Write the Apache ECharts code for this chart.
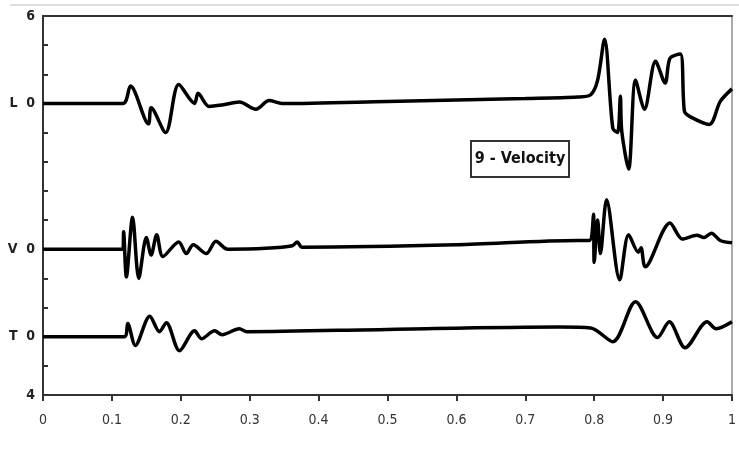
<!DOCTYPE html>
<html>
<head>
<meta charset="utf-8">
<script src="https://cdn.jsdelivr.net/npm/echarts@6/dist/echarts.min.js"></script>
<style>
  html, body { margin: 0; padding: 0; background: #fff; }
  #chart { width: 739px; height: 450px; }
</style>
</head>
<body>
<div id="chart"></div>
<script>
// x ticks
var xTicks = [0, 0.1, 0.2, 0.3, 0.4, 0.5, 0.6, 0.7, 0.8, 0.9, 1]
// y axis labels at tick positions (one unit per tick)
var yTickValues = [13, 10, 5, 2, 0]
var yTickLabels = ['6', 'L  0', 'V  0', 'T  0', '4']

// L trace
var lTime = [0, 0.116, 0.127, 0.153, 0.157, 0.178, 0.197, 0.220, 0.225, 0.241, 0.26, 0.285, 0.309, 0.328, 0.347, 0.5, 0.7, 0.776, 0.795, 0.805, 0.815, 0.827, 0.834, 0.838, 0.840, 0.850, 0.860, 0.873, 0.889, 0.903, 0.910, 0.925, 0.931, 0.939, 0.967, 0.983, 1.0]
var lValue = [0, 0, 0.6, -0.7, -0.15, -1.0, 0.65, 0, 0.35, -0.1, -0.05, 0.05, -0.2, 0.1, 0, 0.07, 0.17, 0.22, 0.3, 0.8, 2.2, -0.85, -1.0, 0.25, -0.95, -2.25, 0.8, -0.2, 1.45, 0.7, 1.55, 1.7, -0.27, -0.45, -0.72, 0.07, 0.5]

// V trace
var vTime = [0, 0.116, 0.117, 0.121, 0.130, 0.139, 0.150, 0.157, 0.165, 0.174, 0.197, 0.208, 0.218, 0.237, 0.251, 0.268, 0.323, 0.362, 0.369, 0.376, 0.6, 0.776, 0.793, 0.799, 0.800, 0.805, 0.809, 0.818, 0.837, 0.850, 0.864, 0.868, 0.874, 0.910, 0.928, 0.949, 0.959, 0.970, 0.983, 1.0]
var vValue = [0, 0, 0.6, -0.95, 1.1, -1.0, 0.4, -0.2, 0.5, -0.25, 0.25, -0.15, 0.15, -0.15, 0.27, 0, 0.03, 0.12, 0.25, 0.07, 0.15, 0.3, 0.3, 1.2, -0.45, 1.0, -0.15, 1.7, -1.05, 0.5, -0.1, 0.05, -0.6, 0.9, 0.35, 0.48, 0.4, 0.55, 0.3, 0.22]

// T trace
var tTime = [0, 0.118, 0.123, 0.134, 0.155, 0.169, 0.179, 0.198, 0.220, 0.230, 0.249, 0.260, 0.285, 0.296, 0.5, 0.75, 0.795, 0.827, 0.860, 0.892, 0.909, 0.932, 0.964, 0.977, 1.0]
var tValue = [0, 0, 0.45, -0.3, 0.7, 0.17, 0.48, -0.48, 0.2, -0.07, 0.2, 0.07, 0.27, 0.17, 0.25, 0.33, 0.3, -0.17, 1.2, -0.03, 0.51, -0.38, 0.51, 0.27, 0.51]

var baseL = 10, baseV = 5, baseT = 2

function makeData(times, values, base) {
  var out = []
  for (var i = 0; i < times.length; i++) {
    out.push([times[i], values[i] + base])
  }
  return out
}

var chart = echarts.init(document.getElementById('chart'))
var font = "'DejaVu Sans Condensed', 'Liberation Sans Narrow', 'Liberation Sans', sans-serif"

function lineSeries(name, data) {
  return {
    name: name,
    type: 'line',
    smooth: 0.3,
    showSymbol: false,
    symbol: 'none',
    lineStyle: { color: '#000', width: 3.5 },
    data: data,
    z: 3
  }
}

var option = {
  animation: false,
  grid: {
    left: 43, right: 4, top: 16, bottom: 55,
    show: true,
    borderColor: '#aaa',
    borderWidth: 2
  },
  xAxis: [{
    type: 'value',
    min: 0, max: 1, interval: 0.1,
    axisLine: { show: true, lineStyle: { color: '#333', width: 2 } },
    axisTick: { show: true, length: 6, lineStyle: { color: '#333', width: 2 } },
    axisLabel: {
      color: '#333', fontSize: 14, fontFamily: font, margin: 18,
      formatter: function (v) {
        for (var i = 0; i < xTicks.length; i++) {
          if (Math.abs(v - xTicks[i]) < 1e-6) return String(xTicks[i])
        }
        return ''
      }
    },
    splitLine: { show: false }
  }, {
    type: 'value',
    position: 'top',
    min: 0, max: 1,
    axisLine: { show: true, lineStyle: { color: '#333', width: 2 } },
    axisTick: { show: false },
    axisLabel: { show: false },
    splitLine: { show: false }
  }],
  yAxis: {
    type: 'value',
    min: 0, max: 13, interval: 1,
    axisLine: { show: true, lineStyle: { color: '#333', width: 2 } },
    axisTick: { show: true, inside: true, length: 5, lineStyle: { color: '#333', width: 2 } },
    axisLabel: {
      color: '#222', fontSize: 14, fontWeight: 'bold', fontFamily: font, margin: 8,
      formatter: function (v) {
        var i = yTickValues.indexOf(v)
        return i >= 0 ? yTickLabels[i] : ''
      }
    },
    splitLine: { show: false }
  },
  graphic: [
    {
      type: 'line',
      shape: { x1: 10, y1: 5, x2: 739, y2: 5 },
      style: { stroke: '#bbb', lineWidth: 1 }
    },
    {
      type: 'group',
      left: 470, top: 140,
      children: [
        {
          type: 'rect',
          shape: { x: 0, y: 0, width: 98, height: 36 },
          style: { fill: '#fff', stroke: '#333', lineWidth: 2 }
        },
        {
          type: 'text',
          x: 49, y: 18,
          style: {
            text: '9 - Velocity',
            fill: '#111',
            font: "bold 16px " + font,
            textAlign: 'center',
            textVerticalAlign: 'middle'
          }
        }
      ]
    }
  ],
  series: [
    lineSeries('L', makeData(lTime, lValue, baseL)),
    lineSeries('V', makeData(vTime, vValue, baseV)),
    lineSeries('T', makeData(tTime, tValue, baseT))
  ]
}
chart.setOption(option)
</script>
</body>
</html>
